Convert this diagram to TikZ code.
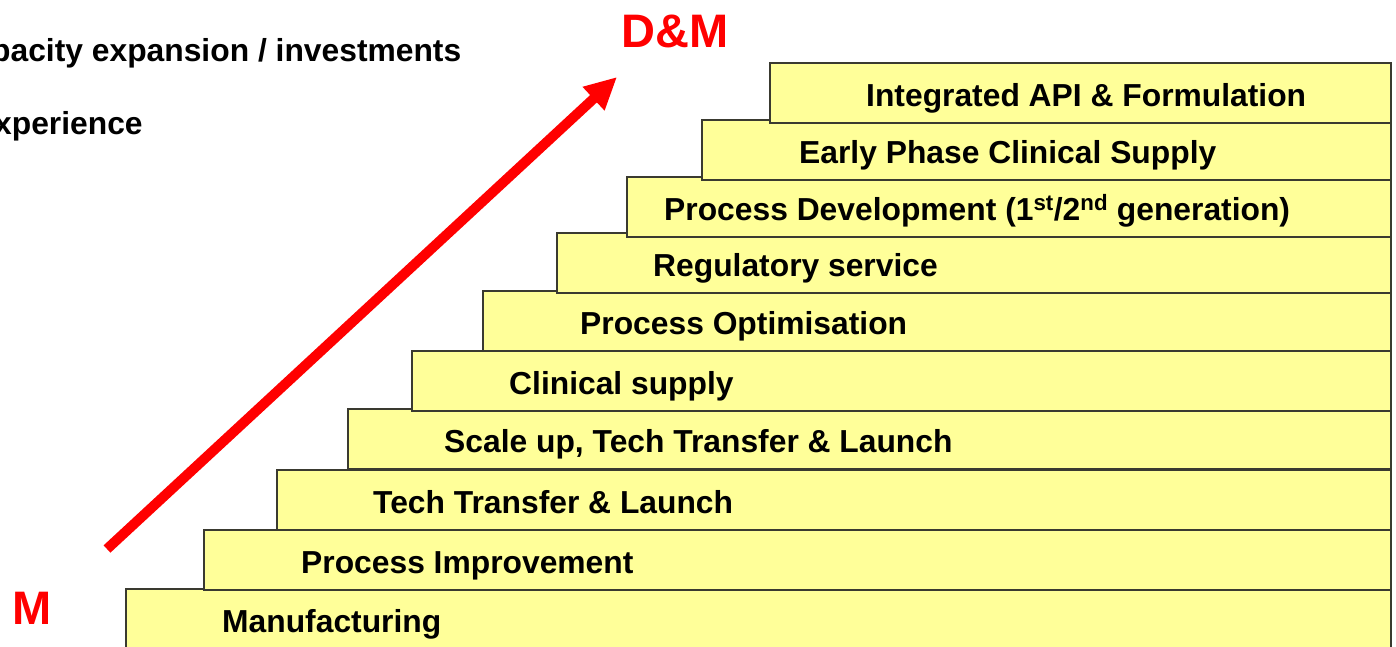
\documentclass[tikz,border=0pt]{standalone}
\usepackage{fontspec}
\setmainfont{Liberation Sans}
\usetikzlibrary{arrows.meta}
\definecolor{stepfill}{HTML}{FFFF99}
\definecolor{stepline}{HTML}{3A3A30}
\definecolor{dmred}{HTML}{FF0000}
\begin{document}
\begin{tikzpicture}[x=1pt,y=-1pt,
  stair/.style={draw=stepline, line width=1.3pt, fill=stepfill},
  steptext/.style={anchor=base west, inner sep=0pt,
    font=\fontsize{31.8}{38}\selectfont\bfseries},
  note/.style={anchor=base west, inner sep=0pt,
    font=\fontsize{31.8}{38}\selectfont\bfseries},
  tag/.style={inner sep=0pt, text=dmred,
    font=\fontsize{47}{56}\selectfont\bfseries}]
\useasboundingbox (0,0) rectangle (1396,646);

% staircase, drawn from the lowest step upwards
\foreach \l/\t/\off/\txt [count=\i] in {
  126/589/96/{Manufacturing},
  204/530/97/{Process Improvement},
  277/470/96/{Tech Transfer \& Launch},
  348/409/96/{Scale up, Tech Transfer \& Launch},
  412/351/97/{Clinical supply},
  483/291/97/{Process Optimisation},
  557/233/96/{Regulatory service},
  627/177/37/{Process Development (1\textsuperscript{st}/2\textsuperscript{nd} generation)},
  702/120/97/{Early Phase Clinical Supply},
  770/63/96/{Integrated API \& Formulation}}
{
  \draw[stair] (\l,\t) rectangle (1391,{\t+60+ifthenelse(\i==1,40,0)});
  \node[steptext] (step\i) at ({\l+\off},{\t+43}) {\txt};
}

% notes at the upper left
\node[note] (capacity) at (-9,61) {pacity expansion / investments};
\node[note] (experience) at (-6,134) {xperience};

% start and end labels
\node[tag, anchor=base west] (m) at (12,624) {M};
\node[tag, anchor=base] (dm) at (675,47) {D\&M};

% growth arrow
\coordinate (tail) at (107,549);
\coordinate (tip) at (617,77);
\draw[dmred, line width=10pt, -{Triangle[length=32pt,width=30pt]}] (tail) -- (tip);
\end{tikzpicture}
\end{document}
